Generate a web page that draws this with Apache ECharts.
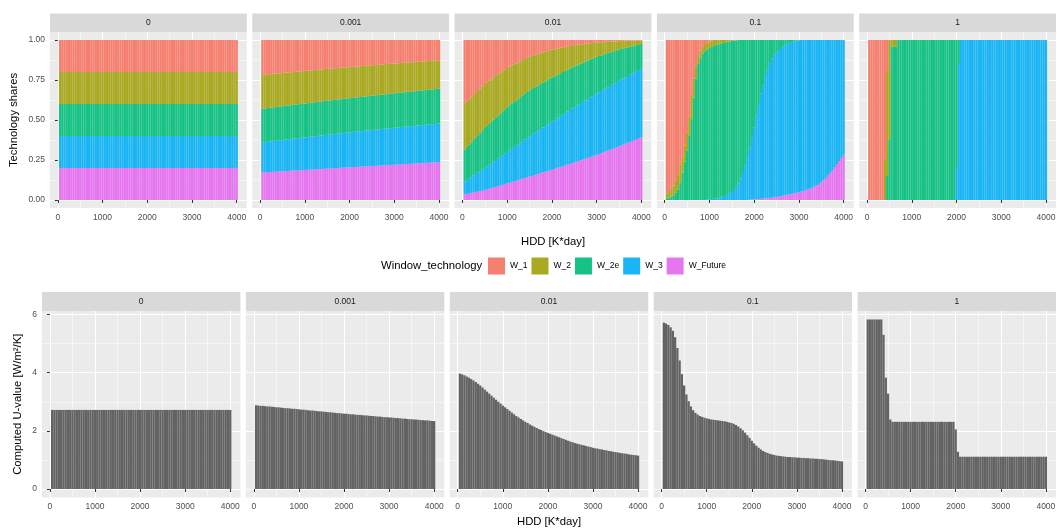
<!DOCTYPE html>
<html>
<head>
<meta charset="utf-8">
<script src="https://cdn.jsdelivr.net/npm/echarts@6/dist/echarts.min.js"></script>
<style>
  html, body { margin: 0; padding: 0; background: #ffffff; }
  #chart { width: 1057px; height: 530px; }
</style>
</head>
<body>
<div id="chart"></div>
<script>
// ---------- data ----------
const hdd = [50,100,150,200,250,300,350,400,450,500,550,600,650,700,750,800,850,900,950,1000,
  1050,1100,1150,1200,1250,1300,1350,1400,1450,1500,1550,1600,1650,1700,1750,1800,1850,1900,1950,2000,
  2050,2100,2150,2200,2250,2300,2350,2400,2450,2500,2550,2600,2650,2700,2750,2800,2850,2900,2950,3000,
  3050,3100,3150,3200,3250,3300,3350,3400,3450,3500,3550,3600,3650,3700,3750,3800,3850,3900,3950,4000];
const hddStep = 50;

const facets = ['0', '0.001', '0.01', '0.1', '1'];
const techs = ['W_1', 'W_2', 'W_2e', 'W_3', 'W_Future'];
const xTicks = [0, 1000, 2000, 3000, 4000];
const xMinor = [500, 1500, 2500, 3500];
const shareTicks = [0, 0.25, 0.5, 0.75, 1];
const shareMinor = [0.125, 0.375, 0.625, 0.875];
const uTicks = [0, 2, 4, 6];
const uMinor = [1, 3, 5];

// Upper edge (in %) of each band; bands stack W_Future, W_3, W_2e, W_2 from the bottom, W_1 fills to 100.
// facet "0"
const f0_future = [20,20,20,20,20,20,20,20,20,20,20,20,20,20,20,20,20,20,20,20,20,20,20,20,20,20,20,20,20,20,20,20,20,20,20,20,20,20,20,20,
  20,20,20,20,20,20,20,20,20,20,20,20,20,20,20,20,20,20,20,20,20,20,20,20,20,20,20,20,20,20,20,20,20,20,20,20,20,20,20,20];
const f0_w3 = [40,40,40,40,40,40,40,40,40,40,40,40,40,40,40,40,40,40,40,40,40,40,40,40,40,40,40,40,40,40,40,40,40,40,40,40,40,40,40,40,
  40,40,40,40,40,40,40,40,40,40,40,40,40,40,40,40,40,40,40,40,40,40,40,40,40,40,40,40,40,40,40,40,40,40,40,40,40,40,40,40];
const f0_w2e = [60,60,60,60,60,60,60,60,60,60,60,60,60,60,60,60,60,60,60,60,60,60,60,60,60,60,60,60,60,60,60,60,60,60,60,60,60,60,60,60,
  60,60,60,60,60,60,60,60,60,60,60,60,60,60,60,60,60,60,60,60,60,60,60,60,60,60,60,60,60,60,60,60,60,60,60,60,60,60,60,60];
const f0_w2 = [80,80,80,80,80,80,80,80,80,80,80,80,80,80,80,80,80,80,80,80,80,80,80,80,80,80,80,80,80,80,80,80,80,80,80,80,80,80,80,80,
  80,80,80,80,80,80,80,80,80,80,80,80,80,80,80,80,80,80,80,80,80,80,80,80,80,80,80,80,80,80,80,80,80,80,80,80,80,80,80,80];

// facet "0.001"
const f0001_future = [17.2,17.3,17.4,17.4,17.5,17.6,17.7,17.8,17.9,17.9,18.0,18.1,18.2,18.3,18.4,18.4,18.5,18.6,18.7,18.8,
  18.8,18.9,19.0,19.1,19.2,19.3,19.3,19.4,19.5,19.6,19.7,19.7,19.8,19.9,20.0,20.1,20.2,20.2,20.3,20.4,
  20.5,20.6,20.6,20.7,20.8,20.9,21.0,21.1,21.1,21.2,21.3,21.4,21.5,21.5,21.6,21.7,21.8,21.9,22.0,22.0,
  22.1,22.2,22.3,22.4,22.4,22.5,22.6,22.7,22.8,22.9,22.9,23.0,23.1,23.2,23.3,23.3,23.4,23.5,23.6,23.7];
const f0001_w3 = [36.0,36.2,36.3,36.5,36.7,36.9,37.0,37.2,37.4,37.5,37.7,37.9,38.0,38.2,38.3,38.5,38.7,38.8,39.0,39.1,
  39.3,39.5,39.6,39.8,39.9,40.1,40.3,40.4,40.6,40.7,40.9,41.1,41.2,41.4,41.5,41.7,41.8,42.0,42.1,42.3,
  42.4,42.6,42.7,42.9,43.0,43.2,43.3,43.5,43.6,43.8,43.9,44.1,44.2,44.3,44.5,44.6,44.7,44.9,45.0,45.2,
  45.3,45.4,45.6,45.7,45.8,46.0,46.1,46.2,46.3,46.5,46.6,46.7,46.9,47.0,47.1,47.2,47.4,47.5,47.6,47.8];
const f0001_w2e = [57.0,57.2,57.4,57.5,57.7,57.9,58.1,58.3,58.4,58.6,58.8,59.0,59.1,59.3,59.5,59.7,59.8,60.0,60.2,60.3,
  60.5,60.7,60.8,61.0,61.2,61.4,61.5,61.7,61.9,62.0,62.2,62.4,62.5,62.7,62.8,63.0,63.2,63.3,63.5,63.6,
  63.8,64.0,64.1,64.3,64.4,64.6,64.7,64.9,65.0,65.2,65.3,65.5,65.6,65.8,65.9,66.1,66.2,66.4,66.5,66.7,
  66.8,67.0,67.1,67.3,67.4,67.6,67.7,67.9,68.0,68.2,68.3,68.4,68.6,68.7,68.9,69.0,69.1,69.3,69.4,69.6];
const f0001_w2 = [78.2,78.3,78.5,78.6,78.7,78.9,79.0,79.1,79.2,79.4,79.5,79.6,79.8,79.9,80.0,80.2,80.3,80.4,80.5,80.7,
  80.8,80.9,81.0,81.2,81.3,81.4,81.5,81.6,81.8,81.9,82.0,82.1,82.2,82.4,82.5,82.6,82.7,82.8,83.0,83.1,
  83.2,83.3,83.4,83.5,83.6,83.8,83.9,84.0,84.1,84.2,84.3,84.4,84.5,84.6,84.7,84.9,85.0,85.1,85.2,85.3,
  85.4,85.5,85.6,85.7,85.8,85.9,86.0,86.1,86.2,86.3,86.4,86.5,86.6,86.7,86.8,86.9,87.0,87.1,87.3,87.4];

// facet "0.01"
const f001_future = [3.5,3.8,4.1,4.4,4.7,5.0,5.3,5.6,5.9,6.2,6.6,7.0,7.4,7.8,8.2,8.7,9.1,9.5,9.9,10.3,
  10.7,11.2,11.6,12.0,12.5,12.9,13.3,13.7,14.2,14.6,15.0,15.5,15.9,16.3,16.8,17.2,17.6,18.0,18.5,18.9,
  19.4,19.8,20.3,20.7,21.2,21.6,22.1,22.5,23.0,23.4,23.9,24.4,24.8,25.3,25.8,26.3,26.8,27.2,27.7,28.2,
  28.7,29.3,29.8,30.3,30.8,31.4,31.9,32.4,32.9,33.5,34.1,34.6,35.2,35.8,36.3,36.9,37.5,38.1,38.6,39.2];
const f001_w3 = [11.5,12.4,13.4,14.3,15.3,16.2,17.2,18.1,19.1,20.0,21.0,22.0,23.0,24.0,25.0,26.0,27.0,28.0,29.0,30.0,
  31.0,32.0,33.0,33.9,34.9,35.9,36.9,37.8,38.8,39.8,40.7,41.6,42.6,43.5,44.4,45.3,46.2,47.2,48.1,49.0,
  49.9,50.8,51.7,52.6,53.5,54.4,55.3,56.2,57.1,58.0,58.9,59.7,60.6,61.4,62.3,63.1,64.0,64.8,65.7,66.5,
  67.3,68.1,68.9,69.7,70.5,71.3,72.1,72.9,73.7,74.5,75.3,76.0,76.8,77.5,78.3,79.0,79.8,80.5,81.3,82.0];
const f001_w2e = [31.5,33.0,34.5,36.0,37.5,39.0,40.5,42.0,43.5,45.0,46.3,47.6,48.9,50.2,51.5,52.8,54.1,55.4,56.7,58.0,
  59.1,60.1,61.2,62.2,63.3,64.3,65.4,66.4,67.5,68.5,69.3,70.1,70.9,71.7,72.5,73.3,74.1,74.9,75.7,76.5,
  77.2,77.9,78.6,79.3,80.0,80.7,81.4,82.1,82.8,83.5,84.1,84.7,85.3,85.9,86.5,87.1,87.7,88.3,88.9,89.5,
  90.0,90.4,90.9,91.3,91.8,92.2,92.7,93.1,93.6,94.0,94.4,94.7,95.1,95.4,95.8,96.1,96.5,96.8,97.2,97.5];
const f001_w2 = [60.0,61.4,62.8,64.2,65.6,66.9,68.3,69.7,71.1,72.5,73.5,74.5,75.5,76.5,77.5,78.5,79.5,80.5,81.5,82.5,
  83.2,83.9,84.6,85.3,86.0,86.7,87.4,88.1,88.8,89.5,90.0,90.4,90.9,91.3,91.8,92.2,92.7,93.1,93.6,94.0,
  94.3,94.6,94.8,95.1,95.4,95.7,96.0,96.2,96.5,96.8,97.0,97.1,97.3,97.4,97.6,97.8,97.9,98.1,98.2,98.4,
  98.5,98.6,98.7,98.8,98.9,98.9,99.0,99.1,99.2,99.3,99.4,99.4,99.5,99.5,99.6,99.6,99.7,99.7,99.8,99.8];

// facet "0.1"
const f01_future = [0,0,0,0,0,0,0,0,0,0,0,0,0,0,0,0,0,0,0,0,
  0,0,0,0,0,0,0,0,0,0,0,0,0,0,0,0,0,0.2,0.3,0.4,
  0.5,0.6,0.7,0.8,1.0,1.1,1.3,1.5,1.7,1.9,2.1,2.4,2.7,3.0,3.3,3.6,3.9,4.2,4.5,4.8,
  5.2,5.6,6.1,6.6,7.1,7.7,8.4,9.2,10.1,11.1,12.3,13.7,15.4,17.0,18.7,20.6,22.5,24.3,26.2,28.2];
const f01_w3 = [0,0,0,0,0,0,0,0,0,0,0,0,0,0,0,0,0,0,0.3,0.5,
  0.6,0.7,0.9,1.1,1.5,2.0,2.5,3.2,4.0,5.0,6.3,8.0,10.3,13.5,17.5,22,27.5,33,39,45.5,
  53,60,66.5,72,77.5,82,85.5,88.3,90.5,92.3,93.8,95,96,96.9,97.6,98.2,98.7,99.1,99.5,99.8,
  100,100,100,100,100,100,100,100,100,100,100,100,100,100,100,100,100,100,100,100];
const f01_w2e = [1,1.5,2,3,4.5,6.5,11,17,24,31,40,50,64,76,85,89,91.5,93,94,95,
  95.6,96.2,96.8,97.3,97.7,98.1,98.5,98.8,99.1,99.4,99.6,99.8,100,100,100,100,100,100,100,100,
  100,100,100,100,100,100,100,100,100,100,100,100,100,100,100,100,100,100,100,100,
  100,100,100,100,100,100,100,100,100,100,100,100,100,100,100,100,100,100,100,100];
const f01_w2 = [4,5,7,9,12,16,22,27,34,42,52,65,76,84,90,93.5,96,97.5,98.5,99.2,
  99.6,100,100,100,100,100,100,100,100,100,100,100,100,100,100,100,100,100,100,100,
  100,100,100,100,100,100,100,100,100,100,100,100,100,100,100,100,100,100,100,100,
  100,100,100,100,100,100,100,100,100,100,100,100,100,100,100,100,100,100,100,100];

// facet "1"
const f1_future = [0,0,0,0,0,0,0,0,0,0,0,0,0,0,0,0,0,0,0,0,0,0,0,0,0,0,0,0,0,0,0,0,0,0,0,0,0,0,0,0,
  0,0,0,0,0,0,0,0,0,0,0,0,0,0,0,0,0,0,0,0,0,0,0,0,0,0,0,0,0,0,0,0,0,0,0,0,0,0,0,0];
const f1_w3 = [0,0,0,0,0,0,0,0,0,0,0,0,0,0,0,0,0,0,0,0,
  0,0,0,0,0,0,0,0,0,0,0,0,0,0,0,0,0,0,0,20,
  85,100,100,100,100,100,100,100,100,100,100,100,100,100,100,100,100,100,100,100,
  100,100,100,100,100,100,100,100,100,100,100,100,100,100,100,100,100,100,100,100];
const f1_w2e = [0,0,0,0,0,0,0,0,15,38,96,96,96,100,100,100,100,100,100,100,
  100,100,100,100,100,100,100,100,100,100,100,100,100,100,100,100,100,100,100,100,
  100,100,100,100,100,100,100,100,100,100,100,100,100,100,100,100,100,100,100,100,
  100,100,100,100,100,100,100,100,100,100,100,100,100,100,100,100,100,100,100,100];
const f1_w2 = [0,0,0,0,0,0,0,26,80,100,100,100,100,100,100,100,100,100,100,100,
  100,100,100,100,100,100,100,100,100,100,100,100,100,100,100,100,100,100,100,100,
  100,100,100,100,100,100,100,100,100,100,100,100,100,100,100,100,100,100,100,100,
  100,100,100,100,100,100,100,100,100,100,100,100,100,100,100,100,100,100,100,100];

// Computed U-value [W/m²/K] per facet
const u_f0 = [2.72,2.72,2.72,2.72,2.72,2.72,2.72,2.72,2.72,2.72,2.72,2.72,2.72,2.72,2.72,2.72,2.72,2.72,2.72,2.72,
  2.72,2.72,2.72,2.72,2.72,2.72,2.72,2.72,2.72,2.72,2.72,2.72,2.72,2.72,2.72,2.72,2.72,2.72,2.72,2.72,
  2.72,2.72,2.72,2.72,2.72,2.72,2.72,2.72,2.72,2.72,2.72,2.72,2.72,2.72,2.72,2.72,2.72,2.72,2.72,2.72,
  2.72,2.72,2.72,2.72,2.72,2.72,2.72,2.72,2.72,2.72,2.72,2.72,2.72,2.72,2.72,2.72,2.72,2.72,2.72,2.72];
const u_f0001 = [2.88,2.87,2.86,2.86,2.85,2.84,2.84,2.83,2.82,2.81,2.81,2.80,2.79,2.78,2.78,2.77,2.76,2.76,2.75,2.74,
  2.73,2.73,2.72,2.71,2.70,2.70,2.69,2.68,2.67,2.67,2.66,2.65,2.64,2.64,2.63,2.62,2.61,2.61,2.60,2.59,
  2.59,2.58,2.57,2.57,2.56,2.55,2.55,2.54,2.53,2.53,2.52,2.51,2.51,2.50,2.49,2.49,2.48,2.47,2.47,2.46,
  2.46,2.45,2.44,2.44,2.43,2.42,2.42,2.41,2.40,2.40,2.39,2.39,2.38,2.37,2.37,2.36,2.36,2.35,2.34,2.34];
const u_f001 = [3.97,3.94,3.91,3.87,3.83,3.78,3.73,3.68,3.62,3.56,3.49,3.42,3.35,3.28,3.21,3.14,3.07,3.00,2.94,2.87,
  2.81,2.75,2.69,2.63,2.57,2.51,2.46,2.41,2.36,2.31,2.27,2.22,2.18,2.14,2.10,2.06,2.03,1.99,1.96,1.93,
  1.90,1.87,1.84,1.81,1.78,1.75,1.72,1.69,1.66,1.63,1.61,1.58,1.56,1.54,1.52,1.50,1.48,1.46,1.44,1.42,
  1.40,1.39,1.37,1.36,1.34,1.33,1.31,1.30,1.28,1.27,1.26,1.24,1.23,1.22,1.21,1.19,1.18,1.17,1.16,1.15];
const u_f01 = [5.72,5.69,5.64,5.56,5.44,5.22,4.85,4.42,3.95,3.56,3.25,3.02,2.84,2.71,2.62,2.56,2.51,2.48,2.45,2.43,
  2.41,2.39,2.38,2.37,2.36,2.35,2.34,2.33,2.31,2.29,2.27,2.24,2.20,2.15,2.09,2.02,1.94,1.85,1.76,1.66,
  1.57,1.49,1.42,1.36,1.31,1.27,1.24,1.21,1.19,1.17,1.15,1.14,1.13,1.12,1.11,1.10,1.10,1.09,1.09,1.08,
  1.08,1.07,1.07,1.06,1.06,1.05,1.05,1.04,1.04,1.03,1.03,1.02,1.01,1.00,0.99,0.99,0.98,0.97,0.96,0.95];
const u_f1 = [5.83,5.83,5.83,5.83,5.83,5.83,5.83,5.30,3.83,3.28,2.39,2.31,2.31,2.31,2.31,2.31,2.31,2.31,2.31,2.31,
  2.31,2.31,2.31,2.31,2.31,2.31,2.31,2.31,2.31,2.31,2.31,2.31,2.31,2.31,2.31,2.31,2.31,2.31,2.31,2.05,
  1.28,1.11,1.11,1.11,1.11,1.11,1.11,1.11,1.11,1.11,1.11,1.11,1.11,1.11,1.11,1.11,1.11,1.11,1.11,1.11,
  1.11,1.11,1.11,1.11,1.11,1.11,1.11,1.11,1.11,1.11,1.11,1.11,1.11,1.11,1.11,1.11,1.11,1.11,1.11,1.11];

const shareEdges = [
  [f0_future, f0_w3, f0_w2e, f0_w2],
  [f0001_future, f0001_w3, f0001_w2e, f0001_w2],
  [f001_future, f001_w3, f001_w2e, f001_w2],
  [f01_future, f01_w3, f01_w2e, f01_w2],
  [f1_future, f1_w3, f1_w2e, f1_w2]
];
const uValues = [u_f0, u_f0001, u_f001, u_f01, u_f1];

// ---------- styling & layout ----------
const FONT = '"Liberation Sans", Arial, Helvetica, sans-serif';
const techColors = { W_1: '#F6806F', W_2: '#A9AA22', W_2e: '#17C285', W_3: '#1AB5F4', W_Future: '#E676F0' };
const PANEL_BG = '#EBEBEB', STRIP_BG = '#D9D9D9', BAR_GREY = '#636363';
const X_RANGE = [-175, 4225];
const RIGHT_EDGE = 1056, PANEL_GAP = 5.5;
const TITLE_SIZE = 11.3, SMALL_SIZE = 8.5;
const rowTop = { left: 50, top: 32, height: 176, stripH: 18.5, yMin: -0.05, yMax: 1.05 };
const rowBottom = { left: 42, top: 311, height: 186.5, stripH: 19, yMin: -0.2915, yMax: 6.1215 };

function panelRect(row, k) {
  const w = (RIGHT_EDGE - row.left - 4 * PANEL_GAP) / 5;
  return { x: row.left + k * (w + PANEL_GAP), w: w };
}

const grids = [], xAxes = [], yAxes = [], series = [], graphics = [];

function addPanel(row, k, yMajor, yMinorVals, yFmt) {
  const r = panelRect(row, k);
  const g = grids.length;
  grids.push({ left: r.x, top: row.top, width: r.w, height: row.height, show: true,
    backgroundColor: PANEL_BG, borderWidth: 0, containLabel: false, outerBoundsMode: 'none' });
  const firstCol = k === 0;
  xAxes.push({
    gridIndex: g, type: 'value', min: X_RANGE[0], max: X_RANGE[1], position: 'bottom',
    axisLine: { show: false },
    axisTick: { show: true, customValues: xTicks, length: 3, lineStyle: { color: '#333333', width: 1 } },
    axisLabel: { show: true, customValues: xTicks, margin: 5, fontSize: SMALL_SIZE, color: '#4D4D4D',
      fontFamily: FONT, hideOverlap: false, formatter: v => String(v) },
    splitLine: { show: true, lineStyle: { color: '#FFFFFF', width: 1 } }
  });
  xAxes.push({
    gridIndex: g, type: 'value', min: X_RANGE[0], max: X_RANGE[1], position: 'top',
    axisLine: { show: false },
    axisTick: { show: false, customValues: xMinor },
    axisLabel: { show: false, customValues: xMinor },
    splitLine: { show: true, lineStyle: { color: '#FFFFFF', width: 0.5 } }
  });
  yAxes.push({
    gridIndex: g, type: 'value', min: row.yMin, max: row.yMax, position: 'left',
    axisLine: { show: false },
    axisTick: { show: firstCol, customValues: yMajor, length: 3, lineStyle: { color: '#333333', width: 1 } },
    axisLabel: { show: firstCol, customValues: yMajor, margin: 5, fontSize: SMALL_SIZE, color: '#4D4D4D',
      fontFamily: FONT, formatter: yFmt, hideOverlap: false },
    splitLine: { show: true, lineStyle: { color: '#FFFFFF', width: 1 } }
  });
  yAxes.push({
    gridIndex: g, type: 'value', min: row.yMin, max: row.yMax, position: 'right',
    axisLine: { show: false },
    axisTick: { show: false, customValues: yMinorVals },
    axisLabel: { show: false, customValues: yMinorVals },
    splitLine: { show: true, lineStyle: { color: '#FFFFFF', width: 0.5 } }
  });
  // facet strip
  graphics.push({ type: 'rect', shape: { x: r.x, y: row.top - row.stripH, width: r.w, height: row.stripH },
    style: { fill: STRIP_BG }, silent: true });
  graphics.push({ type: 'text', x: r.x + r.w / 2, y: row.top - row.stripH / 2,
    style: { text: facets[k], fontSize: SMALL_SIZE, fontFamily: FONT, fill: '#1A1A1A', align: 'center', verticalAlign: 'middle' },
    silent: true });
  return g;
}

// one stacked segment per HDD value: [hdd, lower share, upper share], placed through the axis scales
function renderSegment(params, api) {
  const h = api.value(0);
  const topLeft = api.coord([h - hddStep / 2, api.value(2)]);
  const bottomRight = api.coord([h + hddStep / 2, api.value(1)]);
  return {
    type: 'rect',
    shape: { x: topLeft[0], y: topLeft[1], width: bottomRight[0] - topLeft[0], height: bottomRight[1] - topLeft[1] },
    style: { fill: api.visual('color') }
  };
}

// top row: technology shares, stacked W_Future (bottom) ... W_1 (top)
for (let k = 0; k < 5; k++) {
  const g = addPanel(rowTop, k, shareTicks, shareMinor, v => v.toFixed(2));
  const [eF, e3, e2e, e2] = shareEdges[k];
  const bands = [
    ['W_Future', i => 0, i => eF[i]],
    ['W_3', i => eF[i], i => e3[i]],
    ['W_2e', i => e3[i], i => e2e[i]],
    ['W_2', i => e2e[i], i => e2[i]],
    ['W_1', i => e2[i], i => 100]
  ];
  bands.forEach(([name, lower, upper]) => {
    series.push({
      type: 'custom', name: name, xAxisIndex: 2 * g, yAxisIndex: 2 * g,
      data: hdd.map((h, i) => [h, lower(i) / 100, upper(i) / 100]),
      encode: { x: 0, y: [1, 2] },
      renderItem: renderSegment,
      itemStyle: { color: techColors[name] }, silent: true
    });
  });
}

// bottom row: computed U-value
for (let k = 0; k < 5; k++) {
  const g = addPanel(rowBottom, k, uTicks, uMinor, v => String(v));
  series.push({
    type: 'bar', name: 'U-value ' + facets[k], xAxisIndex: 2 * g, yAxisIndex: 2 * g,
    data: hdd.map((h, i) => [h, uValues[k][i]]),
    barWidth: '100%', itemStyle: { color: BAR_GREY }, silent: true
  });
}

// axis titles and legend title
function addText(text, x, y, size, rot) {
  graphics.push({ type: 'text', x: x, y: y, rotation: rot || 0,
    style: { text: text, fontSize: size, fontFamily: FONT, fill: '#000000', align: 'center', verticalAlign: 'middle' },
    silent: true });
}
addText('Technology shares', 14, rowTop.top + rowTop.height / 2, TITLE_SIZE, Math.PI / 2);
addText('Computed U-value [W/m²/K]', 18, rowBottom.top + rowBottom.height / 2, TITLE_SIZE, Math.PI / 2);
addText('HDD [K*day]', (rowTop.left + RIGHT_EDGE) / 2, 242, TITLE_SIZE, 0);
addText('HDD [K*day]', (rowBottom.left + RIGHT_EDGE) / 2, 522, TITLE_SIZE, 0);
graphics.push({ type: 'text', x: 381, y: 266,
  style: { text: 'Window_technology', fontSize: TITLE_SIZE, fontFamily: FONT, fill: '#000000', align: 'left', verticalAlign: 'middle' },
  silent: true });

const chart = echarts.init(document.getElementById('chart'), null, { renderer: 'canvas' });
chart.setOption({
  animation: false,
  backgroundColor: '#FFFFFF',
  textStyle: { fontFamily: FONT },
  grid: grids,
  xAxis: xAxes,
  yAxis: yAxes,
  series: series,
  legend: {
    data: techs, left: 488, top: 257.5, orient: 'horizontal', icon: 'rect',
    itemWidth: 17, itemHeight: 17, itemGap: 4, selectedMode: false,
    textStyle: { fontSize: SMALL_SIZE, color: '#000000', fontFamily: FONT }, padding: 0
  },
  graphic: graphics,
  tooltip: { show: false }
});
</script>
</body>
</html>
